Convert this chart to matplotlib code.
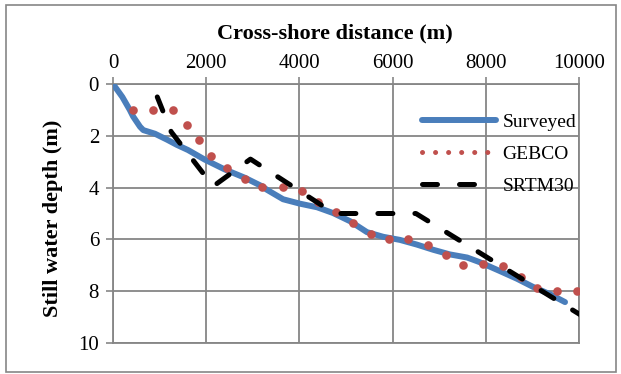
import matplotlib
matplotlib.use('Agg')
import matplotlib.pyplot as plt
from matplotlib.lines import Line2D
from matplotlib.patches import Rectangle

plt.rcParams['font.family'] = ['Liberation Serif', 'DejaVu Serif']

# Surveyed profile (distance m, depth m)
surv_x = [0, 200, 360, 430, 580, 650, 900, 1160, 1370, 1610, 1970, 2400, 2830, 3200,
          3300, 3650, 4010, 4380, 4720, 5090, 5450, 5800, 6160, 6520, 6870, 7230,
          7600, 7870, 8300, 8670, 9010, 9380, 9700]
surv_d = [0.0, 0.5, 1.0, 1.25, 1.65, 1.78, 1.92, 2.15, 2.35, 2.55, 2.92, 3.3, 3.62, 3.95,
          4.08, 4.45, 4.62, 4.76, 4.98, 5.3, 5.72, 5.9, 6.02, 6.2, 6.4, 6.58,
          6.7, 6.88, 7.22, 7.52, 7.83, 8.12, 8.42]

# GEBCO
geb_x = [430, 860, 1290, 1590, 1850, 2100, 2450, 2830, 3200, 3640, 4060, 4400, 4790,
         5150, 5530, 5920, 6330, 6760, 7140, 7510, 7940, 8370, 8760, 9100, 9530, 9960]
geb_d = [1.0, 1.0, 1.0, 1.6, 2.17, 2.78, 3.25, 3.67, 3.97, 3.96, 4.12, 4.55, 4.95,
         5.37, 5.78, 5.98, 5.98, 6.2, 6.6, 7.0, 6.96, 7.03, 7.46, 7.87, 7.98, 7.98]

# SRTM30
srtm_x = [950, 1250, 2150, 2950, 4750, 6500, 10200]
srtm_d = [0.5, 1.85, 3.95, 2.9, 5.0, 5.0, 9.1]

labels = ['Surveyed', 'GEBCO', 'SRTM30']
c_surv = '#4A7EBB'
c_geb = '#C0504D'

fig = plt.figure(figsize=(6.21, 3.74), dpi=100)
ax = fig.add_axes([113 / 621, 1 - 343 / 374, 466 / 621, 259 / 374])

ax.plot(surv_x, surv_d, color=c_surv, lw=4.3, solid_capstyle='round', zorder=3)
ax.plot(geb_x, geb_d, 'o', color=c_geb, ms=6.2, mew=0, zorder=4)
ax.plot(srtm_x, srtm_d, color='black', lw=3.6, dashes=(3, 4.4),
        dash_capstyle='round', zorder=5)

ax.set_xlim(0, 10000)
ax.set_ylim(10, 0)
ax.set_xticks(range(0, 10001, 2000))
ax.set_yticks(range(0, 11, 2))
ax.xaxis.tick_top()
ax.xaxis.set_label_position('top')
ax.tick_params(axis='both', labelsize=15, color='#868686', width=1.2, length=5,
               direction='out')
ax.tick_params(axis='x', pad=3)
ax.tick_params(axis='y', pad=5)
ax.grid(True, color='#868686', lw=1.3)
for s in ax.spines.values():
    s.set_color('#868686')
    s.set_linewidth(1.3)
ax.set_xlabel('Cross-shore distance (m)', fontsize=16, fontweight='bold')
ax.set_ylabel('Still water depth (m)', fontsize=16, fontweight='bold')
ax.xaxis.set_label_coords(0.476, 1.174)
ax.yaxis.set_label_coords(-0.107, 0.48)

handles = [
    Line2D([], [], color=c_surv, lw=4.3, solid_capstyle='round'),
    Line2D([], [], color=c_geb, lw=3.6, dashes=(0.01, 2.6), dash_capstyle='round'),
    Line2D([], [], color='black', lw=3.6, dashes=(3, 4.4), dash_capstyle='round'),
]
ax.legend(handles, labels, loc='upper left', bbox_to_anchor=(422 / 621, 1 - 113 / 374),
          bbox_transform=fig.transFigure, frameon=False, fontsize=14,
          handlelength=3.8, handletextpad=0.35, labelspacing=0.75,
          borderpad=0, borderaxespad=0)

fig.patches.append(Rectangle((6 / 621, 2 / 374), 610 / 621, 367 / 374,
                             transform=fig.transFigure, fill=False,
                             edgecolor='#868686', lw=1.2))

fig.savefig('out.png', dpi=100)
